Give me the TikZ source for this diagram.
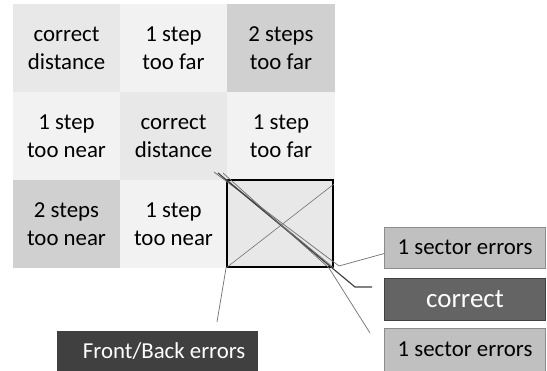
\documentclass[tikz,border=0pt]{standalone}
\usepackage{fontspec}
\setmainfont{Carlito}
\usetikzlibrary{positioning, calc}
\definecolor{palegrey}{HTML}{F2F2F2}
\definecolor{midgrey}{HTML}{E8E8E8}
\definecolor{darkgrey}{HTML}{D0D0D0}
\definecolor{boxgrey}{HTML}{C0C0C0}
\definecolor{boxedge}{HTML}{8C8C8C}
\definecolor{okgrey}{HTML}{646464}
\definecolor{fbgrey}{HTML}{404040}
\definecolor{leadgrey}{HTML}{707070}

\begin{document}
\begin{tikzpicture}[x=0.03cm, y=-0.03cm,
    cell/.style={minimum width=3.21cm, minimum height=2.64cm, inner sep=0pt, align=center,
      font=\fontsize{19.5}{24}\selectfont},
    sectorbox/.style={draw=boxedge, fill=boxgrey, minimum width=4.83cm, minimum height=1.23cm,
      inner sep=0pt, font=\fontsize{19.5}{22}\selectfont},
    leader/.style={leadgrey, line width=0.6pt}]
\useasboundingbox (0,0) rectangle (547,371);

% the 3x3 grid of distances
\node[cell, fill=midgrey]   (c11) at (66.5,48.5) {correct\\distance};
\node[cell, fill=palegrey]  (c12) at (173.5,48.5) {1 step\\too far};
\node[cell, fill=darkgrey]  (c13) at (281,48.5) {2 steps\\too far};
\node[cell, fill=palegrey]  (c21) at (66.5,136) {1 step\\too near};
\node[cell, fill=midgrey]   (c22) at (173.5,136) {correct\\distance};
\node[cell, fill=palegrey]  (c23) at (281,136) {1 step\\too far};
\node[cell, fill=darkgrey]  (c31) at (66.5,224) {2 steps\\too near};
\node[cell, fill=palegrey]  (c32) at (173.5,224) {1 step\\too near};

% target cell
\node[draw=black, fill=midgrey, line width=1.6pt, minimum width=3.18cm, minimum height=2.61cm,
      inner sep=0pt] (tgt) at (280,223.5) {};
\draw[leadgrey, line width=0.5pt] (tgt.north west) -- (tgt.south east);
\draw[leadgrey, line width=0.5pt] (tgt.south west) -- ($(tgt.north east)+(0,5)$);

% labels on the right
\node[sectorbox] (s1) at (465,247.5) {1 sector errors};
\node[draw=fbgrey, fill=okgrey, text=white, minimum width=4.83cm, minimum height=1.26cm,
      inner sep=0pt, font=\fontsize{23}{26}\selectfont, below=0.3cm of s1] (ok) {correct};
\node[sectorbox, minimum height=1.29cm, below=0.21cm of ok] (s3) {1 sector errors};
\node[fill=fbgrey, text=white, minimum width=6.03cm, minimum height=1.2cm, inner sep=0pt,
      font=\fontsize{19.5}{22}\selectfont] (fb) at (157.5,351) {\hspace{0.4cm}Front/Back errors};

% leader lines
\coordinate (a0) at (214,172);
\coordinate (b0) at (218,173);
\coordinate (b1) at (372,287);
\coordinate (c0) at (223,173);
\coordinate (c1) at (370,333);
\coordinate (f1) at (217,322);
\draw[leader] (a0) -- (339,266) -- ($(s1.west)+(0,6)$);
\draw[fbgrey, line width=1pt] (b0) -- (355,287) -- (b1);
\draw[leader] (c0) -- (329,268) -- (c1);
\draw[leader] (tgt.south west) -- (f1);
\end{tikzpicture}
\end{document}
